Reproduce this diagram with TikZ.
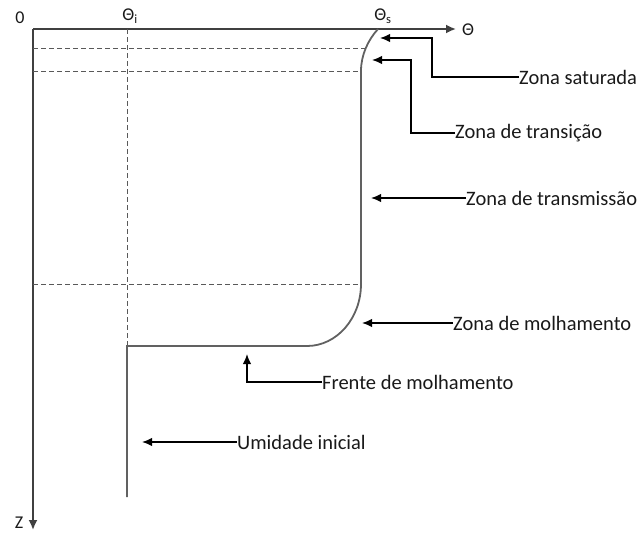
\documentclass[tikz,border=0pt]{standalone}
\usepackage{fontspec}
\setmainfont{Carlito}
\usetikzlibrary{arrows.meta}

\begin{document}
\begin{tikzpicture}[x=1pt,y=-1pt,
  axis/.style={line width=1.8pt, draw=black!75},
  guide/.style={line width=1pt, draw=black!65, dash pattern=on 5pt off 3pt},
  profile/.style={line width=1.8pt, draw=black!62},
  pointer/.style={line width=1.4pt, -{Latex[length=10pt,width=8.5pt]}},
  zone/.style={font=\fontsize{20.5}{24}\selectfont, inner sep=0pt, anchor=west, text=black!90},
  axlabel/.style={font=\fontsize{18}{21}\selectfont, inner sep=0pt, text=black!90}]
\useasboundingbox (0,0) rectangle (640,533);

% axes
\coordinate (O) at (33,29);
\coordinate (thetaend) at (456,29);
\coordinate (zend) at (33,530);
\draw[axis, -{Latex[length=10pt,width=9pt]}] (O) -- (thetaend);
\draw[axis, -{Latex[length=10pt,width=9pt]}] (O) -- (zend);
\node[axlabel] (zero) at (20,18) {0};
\node[axlabel, anchor=west] (theta) at (462,30) {Θ};
\node[axlabel] (zlab) at (19,523) {Z};
\node[axlabel] (thetai) at (130,16) {Θ\textsubscript{i}};
\node[axlabel] (thetas) at (383,16) {Θ\textsubscript{s}};

% guide lines
\draw[guide] (127,29) -- (127,346);
\draw[guide] (33,48) -- (365,48);
\draw[guide] (33,71) -- (361,71);
\draw[guide] (33,284) -- (361,284);

% moisture profile
\draw[profile] (378,29) .. controls (368,40) and (361,55) .. (361,71)
  -- (361,284) .. controls (361,318) and (337,346) .. (307,346)
  -- (127,346) -- (127,497);

% zone labels
\node[zone] (sat) at (519,77) {Zona saturada};
\node[zone] (trans) at (455,133) {Zona de transição};
\node[zone] (transm) at (466,198) {Zona de transmissão};
\node[zone] (molh) at (453,323) {Zona de molhamento};
\node[zone] (frente) at (322,382) {Frente de molhamento};
\node[zone] (umid) at (237,442) {Umidade inicial};

% pointers
\coordinate (sattip) at (380,38);
\coordinate (satbend) at (432,38);
\coordinate (trtip) at (372,60);
\coordinate (trbend) at (411,60);
\coordinate (tmtip) at (371,198);
\coordinate (motip) at (362,323);
\coordinate (frtip) at (247,354);
\coordinate (umtip) at (142,442);
\draw[pointer] (sat.west) -| (satbend) -- (sattip);
\draw[pointer] (trans.west) -| (trbend) -- (trtip);
\draw[pointer] (transm.west) -- (tmtip);
\draw[pointer] (molh.west) -- (motip);
\draw[pointer] (frente.west) -| (frtip);
\draw[pointer] (umid.west) -- (umtip);
\end{tikzpicture}
\end{document}
